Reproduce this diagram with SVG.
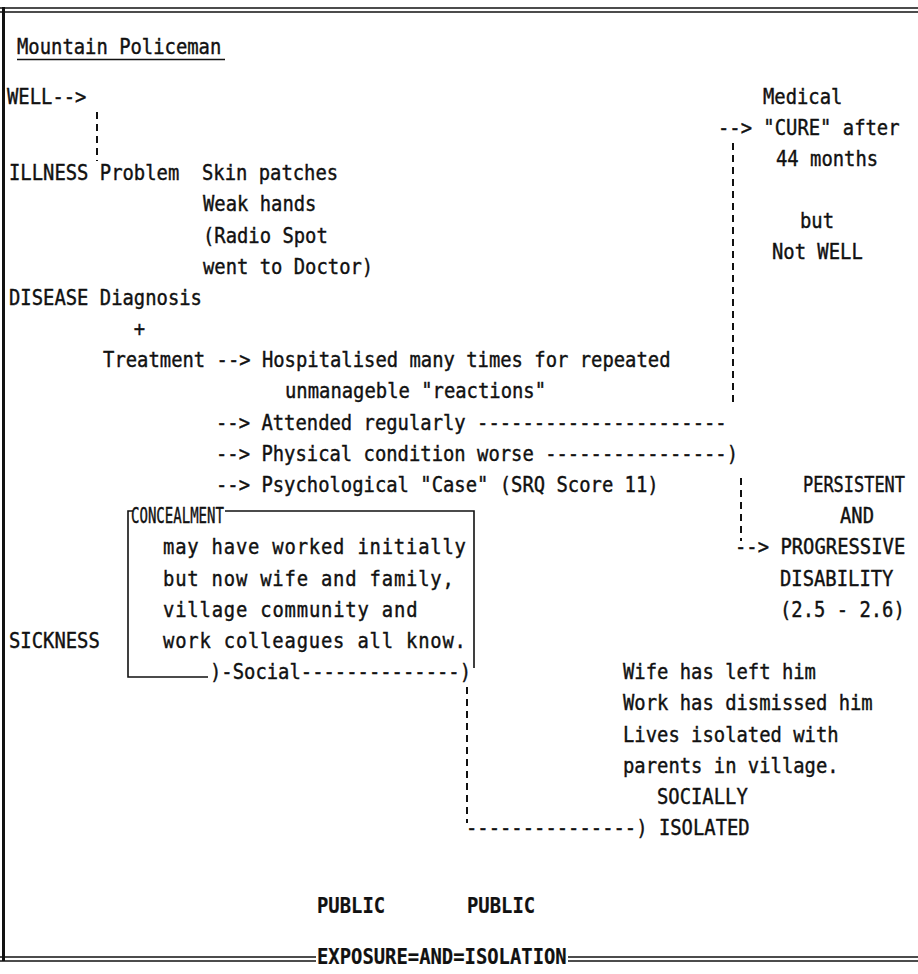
<svg xmlns="http://www.w3.org/2000/svg" width="918" height="974" viewBox="0 0 918 974">
  <style>
    .t { font-family: "DejaVu Sans Mono", "Liberation Mono", monospace; font-size: 20.5px; fill: #111; stroke: #111; stroke-width: 0.4; white-space: pre; }
    .b { font-weight: bold; stroke-width: 0.2; }
    .rule { stroke: #111; fill: none; }
    .dash { stroke: #111; stroke-width: 2; stroke-dasharray: 7 5; fill: none; }
    .box { stroke: #111; stroke-width: 1.6; fill: none; }
  </style>
  <rect width="918" height="974" fill="#fff"/>

  <!-- page frame: double rule top and bottom, heavy rule on the left -->
  <g id="frame">
    <line class="rule" x1="0" y1="8" x2="918" y2="8" stroke-width="1.5"/>
    <line class="rule" x1="0" y1="12" x2="918" y2="12" stroke-width="1.5"/>
    <line class="rule" x1="3.5" y1="7" x2="3.5" y2="961" stroke-width="3"/>
    <line class="rule" x1="0" y1="957" x2="316" y2="957" stroke-width="1.5"/>
    <line class="rule" x1="0" y1="961" x2="316" y2="961" stroke-width="1.5"/>
    <line class="rule" x1="568" y1="957" x2="918" y2="957" stroke-width="1.5"/>
    <line class="rule" x1="568" y1="961" x2="918" y2="961" stroke-width="1.5"/>
  </g>

  <!-- connectors -->
  <g id="connectors">
    <line class="dash" x1="97" y1="112" x2="97" y2="161"/>
    <line class="dash" x1="733" y1="143" x2="733" y2="402"/>
    <line class="dash" x1="741" y1="478" x2="741" y2="541"/>
    <line class="dash" x1="467" y1="687" x2="467" y2="823"/>
    <line class="rule" x1="17" y1="59.5" x2="225" y2="59.5" stroke-width="1.5"/>
  </g>

  <!-- concealment box -->
  <g id="concealment-box">
    <path class="box" d="M133,511 H128 V677 H208"/>
    <path class="box" d="M225,511 H474 V668"/>
  </g>

  <!-- all text is set in a condensed monospace: x values are divided by 0.92 -->
  <g transform="scale(0.92,1)" xml:space="preserve">
    <g id="title"><text class="t" x="18.5" y="54">Mountain Policeman</text></g>

    <g id="well"><text class="t" x="7.6" y="104">WELL--&gt;</text></g>

    <g id="illness">
      <text class="t" x="9.8" y="180">ILLNESS Problem  Skin patches</text>
      <text class="t" x="220.6" y="211">Weak hands</text>
      <text class="t" x="220.6" y="243">(Radio Spot</text>
      <text class="t" x="220.6" y="274">went to Doctor)</text>
    </g>

    <g id="disease">
      <text class="t" x="9.8" y="305">DISEASE Diagnosis</text>
      <text class="t" x="145.5" y="336">+</text>
      <text class="t" x="112" y="367">Treatment --&gt; Hospitalised many times for repeated</text>
      <text class="t" x="309.8" y="398">unmanageble "reactions"</text>
      <text class="t" x="234.8" y="430">--&gt; Attended regularly ----------------------</text>
      <text class="t" x="234.8" y="461">--&gt; Physical condition worse ----------------)</text>
      <text class="t" x="234.8" y="492">--&gt; Psychological "Case" (SRQ Score 11)</text>
    </g>

    <g id="cure">
      <text class="t" x="829.3" y="104">Medical</text>
      <text class="t" x="780.4" y="135">--&gt; "CURE" after</text>
      <text class="t" x="843.5" y="166">44 months</text>
      <text class="t" x="869.6" y="228">but</text>
      <text class="t" x="839.1" y="259">Not WELL</text>
    </g>

    <g id="disability">
      <text class="t" x="872.8" y="492" textLength="110.9" lengthAdjust="spacingAndGlyphs">PERSISTENT</text>
      <text class="t" x="913" y="523">AND</text>
      <text class="t" x="798.9" y="554">--&gt; PROGRESSIVE</text>
      <text class="t" x="847.8" y="586">DISABILITY</text>
      <text class="t" x="847.8" y="617">(2.5 - 2.6)</text>
    </g>

    <g id="concealment">
      <text class="t" x="142.4" y="523" textLength="101" lengthAdjust="spacingAndGlyphs">CONCEALMENT</text>
      <text class="t" x="177.2" y="554" textLength="329.3" lengthAdjust="spacing">may have worked initially</text>
      <text class="t" x="177.2" y="586" textLength="316.1" lengthAdjust="spacing">but now wife and family,</text>
      <text class="t" x="177.2" y="617" textLength="276.6" lengthAdjust="spacing">village community and</text>
      <text class="t" x="177.2" y="648" textLength="329.3" lengthAdjust="spacing">work colleagues all know.</text>
      <text class="t" x="228.3" y="679">)-Social--------------)</text>
    </g>

    <g id="sickness"><text class="t" x="9.8" y="648">SICKNESS</text></g>

    <g id="isolation">
      <text class="t" x="677.2" y="679">Wife has left him</text>
      <text class="t" x="677.2" y="710">Work has dismissed him</text>
      <text class="t" x="677.2" y="742">Lives isolated with</text>
      <text class="t" x="677.2" y="773">parents in village.</text>
      <text class="t" x="714.1" y="804">SOCIALLY</text>
      <text class="t" x="506.5" y="835">---------------) ISOLATED</text>
    </g>

    <g id="public">
      <text class="t b" x="344.6" y="913">PUBLIC</text>
      <text class="t b" x="507.6" y="913">PUBLIC</text>
      <text class="t b" x="344.6" y="964">EXPOSURE=AND=ISOLATION</text>
    </g>
  </g>
</svg>
